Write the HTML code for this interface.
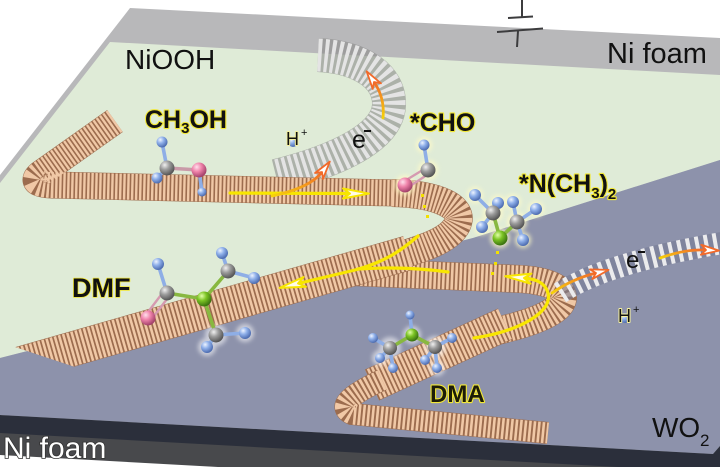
<!DOCTYPE html>
<html><head><meta charset="utf-8"><style>
html,body{margin:0;padding:0;background:#fff;}
svg{display:block;}
text{font-family:"Liberation Sans",Arial,sans-serif;}
</style></head><body>
<svg width="720" height="467" viewBox="0 0 720 467" xmlns="http://www.w3.org/2000/svg">
<defs>
 <radialGradient id="gC" cx="35%" cy="30%" r="70%"><stop offset="0" stop-color="#f0f0f0"/><stop offset=".45" stop-color="#9c9c9c"/><stop offset="1" stop-color="#555"/></radialGradient>
 <radialGradient id="gH" cx="35%" cy="30%" r="70%"><stop offset="0" stop-color="#eef4ff"/><stop offset=".45" stop-color="#8fb0ea"/><stop offset="1" stop-color="#4d6cb0"/></radialGradient>
 <radialGradient id="gO" cx="35%" cy="30%" r="70%"><stop offset="0" stop-color="#ffe0ec"/><stop offset=".45" stop-color="#f084ab"/><stop offset="1" stop-color="#a2416a"/></radialGradient>
 <radialGradient id="gN" cx="35%" cy="30%" r="70%"><stop offset="0" stop-color="#e2ffa8"/><stop offset=".45" stop-color="#7cc424"/><stop offset="1" stop-color="#3a7210"/></radialGradient>
 <linearGradient id="gOr" x1="0" y1="1" x2="1" y2="0"><stop offset="0" stop-color="#f6d20a"/><stop offset="1" stop-color="#f26a2a"/></linearGradient>
 <linearGradient id="gOrV" x1="0" y1="1" x2="0" y2="0"><stop offset="0" stop-color="#f6d20a"/><stop offset="1" stop-color="#f26a2a"/></linearGradient>
 <filter id="bl" x="-50%" y="-50%" width="200%" height="200%"><feGaussianBlur stdDeviation="2"/></filter>
 <marker id="hy" viewBox="0 0 28 14" refX="8" refY="7" markerWidth="28" markerHeight="14" orient="auto" markerUnits="userSpaceOnUse">
  <path d="M1,2 L27,7 L1,12 L8,7 Z" fill="#fffbe6" stroke="#f8e600" stroke-width="2" stroke-linejoin="round"/>
 </marker>
 <marker id="ho" viewBox="0 0 20 12" refX="6" refY="6" markerWidth="20" markerHeight="12" orient="auto" markerUnits="userSpaceOnUse">
  <path d="M1,1 L19,6 L1,11 L6,6 Z" fill="#fff" stroke="#f26a2a" stroke-width="1.8" stroke-linejoin="round"/>
 </marker>
 <clipPath id="dmfclip"><polygon points="-15,337 105,377 640,400 640,150 -15,150"/></clipPath>
</defs>

<!-- plates -->
<rect width="720" height="467" fill="#fff"/>
<polygon points="130,8 720,38 720,470 0,415 0,175" fill="#b8b8ba"/>
<polygon points="110,42 720,75 720,160 473,238 0,358 0,183" fill="#dfebd7"/>
<polygon points="0,358 473,238 720,160 720,446 713,454 0,415" fill="#8d92ab"/>
<polygon points="0,415 713,454 720,446 720,467 0,467" fill="#2b2f3b"/>
<polygon points="0,433 618,467 0,467" fill="#48494c"/>
<polygon points="0,455 218,467 0,467" fill="#fff"/>

<!-- battery symbol -->
<g stroke="#3c3c3e" stroke-width="2" fill="none">
 <line x1="522" y1="0" x2="522" y2="17"/>
 <line x1="508" y1="18" x2="533" y2="16.5"/>
 <line x1="497" y1="32" x2="543" y2="28.5"/>
 <line x1="518" y1="31" x2="517" y2="47"/>
</g>

<!-- gray electron band top -->
<path d="M318,55 C360,57 390,76 389,105 C388,136 340,160 276,176" fill="none" stroke="#8a8a8a" stroke-opacity=".6" stroke-width="34"/>
<path d="M318,55 C360,57 390,76 389,105 C388,136 340,160 276,176" fill="none" stroke="#e4e4e4" stroke-width="33" stroke-dasharray="3.6 3"/>

<!-- ribbon 2 (middle + DMA) -->
<g fill="none">
 <path d="M352,272 L520,279 C555,281 572,293 558,307 C546,318 520,326 492,332" stroke="#9c6c4e" stroke-width="28"/>
 <path d="M352,272 L520,279 C555,281 572,293 558,307 C546,318 520,326 492,332" stroke="#f0c8a6" stroke-width="27" stroke-dasharray="2.6 1.7"/>
 <path d="M505,324 L372,385" stroke="#9c6c4e" stroke-width="34"/>
 <path d="M505,324 L372,385" stroke="#f0c8a6" stroke-width="33" stroke-dasharray="2.6 1.7"/>
 <path d="M382,380 Q330,404 352,414 L548,433" stroke="#9c6c4e" stroke-width="22"/>
 <path d="M382,380 Q330,404 352,414 L548,433" stroke="#f0c8a6" stroke-width="21" stroke-dasharray="2.6 1.9"/>
</g>

<!-- ribbon 1 (top + U + DMF) -->
<g fill="none">
 <path d="M115,121 L40,174 Q28,184 52,185 L395,193" stroke="#9c6c4e" stroke-width="27"/>
 <path d="M115,121 L40,174 Q28,184 52,185 L395,193" stroke="#f0c8a6" stroke-width="26" stroke-dasharray="2.4 1.6"/>
 <path d="M392,193 C438,194 466,207 457,225 C449,240 425,248 395,257" stroke="#9c6c4e" stroke-width="28"/>
 <path d="M392,193 C438,194 466,207 457,225 C449,240 425,248 395,257" stroke="#f0c8a6" stroke-width="27" stroke-dasharray="2.4 1.6"/>
 <g clip-path="url(#dmfclip)">
  <path d="M408,253 L20,364" stroke="#9c6c4e" stroke-width="35"/>
  <path d="M408,253 L20,364" stroke="#f0c8a6" stroke-width="34" stroke-dasharray="2.6 1.7"/>
 </g>
</g>

<!-- gray electron band right -->
<path d="M560,293 Q605,263 722,243" fill="none" stroke="#767b94" stroke-opacity=".6" stroke-width="22"/>
<path d="M560,293 Q605,263 722,243" fill="none" stroke="#ebebed" stroke-width="22" stroke-dasharray="4 5"/>

<!-- yellow dots -->
<g fill="#f2e000">
 <rect x="421" y="194" width="3" height="3"/><rect x="423" y="205" width="3" height="3"/><rect x="426" y="215" width="3" height="3"/>
 <rect x="496" y="251" width="3" height="3"/><rect x="494" y="262" width="3" height="3"/><rect x="491" y="272" width="3" height="3"/>
</g>

<!-- arrows -->
<g fill="none" stroke-linecap="round">
 <path d="M230,193 L350,193.5" stroke="#f8e600" stroke-width="3.2" marker-end="url(#hy)"/>
 <path d="M448,272 Q405,266 358,269" stroke="#f8e600" stroke-width="3.2"/>
 <path d="M418,236 C402,250 385,262 355,270 L298,283.5" stroke="#f8e600" stroke-width="3.2" marker-end="url(#hy)"/>
 <path d="M474,338 C520,331 553,312 548,293 C545,282 535,279 524,278" stroke="#f8e600" stroke-width="3.2" marker-end="url(#hy)"/>
 <path d="M272,196 Q310,188 322,172" stroke="url(#gOr)" stroke-width="2.8" marker-end="url(#ho)"/>
 <path d="M383,118 Q385,98 374,82" stroke="url(#gOrV)" stroke-width="2.8" marker-end="url(#ho)"/>
 <path d="M552,293 Q572,279 596,273" stroke="url(#gOr)" stroke-width="2.8" marker-end="url(#ho)"/>
 <path d="M660,258 Q685,249 706,250" stroke="url(#gOr)" stroke-width="2.8" marker-end="url(#ho)"/>
</g>

<!-- molecule glows -->
<g fill="#fffbc8" opacity=".75" filter="url(#bl)">
 <circle cx="424" cy="145" r="8"/><circle cx="428" cy="170" r="10"/><circle cx="405" cy="185" r="10"/>
 <circle cx="475" cy="195" r="8"/><circle cx="498" cy="203" r="8"/><circle cx="513" cy="202" r="8"/><circle cx="536" cy="209" r="8"/>
 <circle cx="493" cy="213" r="10"/><circle cx="517" cy="222" r="10"/><circle cx="482" cy="227" r="8"/><circle cx="500" cy="238" r="10"/><circle cx="523" cy="240" r="8"/>
</g>
<g fill="#ffffff" opacity=".55" filter="url(#bl)">
 <circle cx="216" cy="335" r="11"/><circle cx="245" cy="333" r="9"/><circle cx="207" cy="347" r="9"/>
 <circle cx="412" cy="335" r="9"/><circle cx="390" cy="348" r="11"/><circle cx="435" cy="347" r="11"/><circle cx="380" cy="358" r="8"/><circle cx="437" cy="368" r="8"/>
</g>

<!-- bonds -->
<g stroke-width="3.6" stroke-linecap="round">
 <line x1="167" y1="168" x2="162" y2="142" stroke="#8eaee6"/>
 <line x1="167" y1="168" x2="157" y2="178" stroke="#8eaee6"/>
 <line x1="167" y1="168" x2="199" y2="170" stroke="#c99aa8"/>
 <line x1="199" y1="170" x2="202" y2="192" stroke="#8eaee6"/>
 <line x1="428" y1="170" x2="424" y2="145" stroke="#8eaee6"/>
 <line x1="426" y1="168" x2="403" y2="182" stroke="#d59ab0" stroke-width="2.4"/>
 <line x1="430" y1="173" x2="407" y2="188" stroke="#d59ab0" stroke-width="2.4"/>
 <line x1="500" y1="238" x2="493" y2="213" stroke="#88b840"/>
 <line x1="500" y1="238" x2="517" y2="222" stroke="#88b840"/>
 <line x1="493" y1="213" x2="475" y2="195" stroke="#8eaee6"/>
 <line x1="493" y1="213" x2="498" y2="203" stroke="#8eaee6"/>
 <line x1="493" y1="213" x2="482" y2="227" stroke="#8eaee6"/>
 <line x1="517" y1="222" x2="513" y2="202" stroke="#8eaee6"/>
 <line x1="517" y1="222" x2="536" y2="209" stroke="#8eaee6"/>
 <line x1="517" y1="222" x2="523" y2="240" stroke="#8eaee6"/>
 <line x1="167" y1="293" x2="158" y2="264" stroke="#8eaee6"/>
 <line x1="164" y1="291" x2="145" y2="316" stroke="#d59ab0" stroke-width="2.4"/>
 <line x1="170" y1="295" x2="151" y2="320" stroke="#d59ab0" stroke-width="2.4"/>
 <line x1="167" y1="293" x2="204" y2="299" stroke="#88b840"/>
 <line x1="204" y1="299" x2="228" y2="271" stroke="#88b840"/>
 <line x1="204" y1="299" x2="216" y2="335" stroke="#88b840"/>
 <line x1="228" y1="271" x2="222" y2="253" stroke="#8eaee6"/>
 <line x1="228" y1="271" x2="254" y2="278" stroke="#8eaee6"/>
 <line x1="216" y1="335" x2="245" y2="333" stroke="#8eaee6"/>
 <line x1="216" y1="335" x2="207" y2="347" stroke="#8eaee6"/>
 <line x1="412" y1="335" x2="410" y2="315" stroke="#8eaee6"/>
 <line x1="412" y1="335" x2="390" y2="348" stroke="#88b840"/>
 <line x1="412" y1="335" x2="435" y2="347" stroke="#88b840"/>
 <line x1="390" y1="348" x2="373" y2="338" stroke="#8eaee6"/>
 <line x1="390" y1="348" x2="380" y2="358" stroke="#8eaee6"/>
 <line x1="390" y1="348" x2="393" y2="368" stroke="#8eaee6"/>
 <line x1="435" y1="347" x2="452" y2="338" stroke="#8eaee6"/>
 <line x1="435" y1="347" x2="425" y2="360" stroke="#8eaee6"/>
 <line x1="435" y1="347" x2="437" y2="368" stroke="#8eaee6"/>
</g>

<!-- balls -->
<g>
 <circle cx="162" cy="142" r="5.5" fill="url(#gH)"/>
 <circle cx="167" cy="168" r="7.5" fill="url(#gC)"/>
 <circle cx="157" cy="178" r="5.5" fill="url(#gH)"/>
 <circle cx="199" cy="170" r="7.5" fill="url(#gO)"/>
 <circle cx="202" cy="192" r="4.5" fill="url(#gH)"/>
 <circle cx="424" cy="145" r="5.5" fill="url(#gH)"/>
 <circle cx="428" cy="170" r="7.5" fill="url(#gC)"/>
 <circle cx="405" cy="185" r="7.5" fill="url(#gO)"/>
 <circle cx="475" cy="195" r="6" fill="url(#gH)"/>
 <circle cx="498" cy="203" r="6" fill="url(#gH)"/>
 <circle cx="513" cy="202" r="6" fill="url(#gH)"/>
 <circle cx="536" cy="209" r="6" fill="url(#gH)"/>
 <circle cx="493" cy="213" r="7.5" fill="url(#gC)"/>
 <circle cx="517" cy="222" r="7.5" fill="url(#gC)"/>
 <circle cx="482" cy="227" r="6" fill="url(#gH)"/>
 <circle cx="500" cy="238" r="7.5" fill="url(#gN)"/>
 <circle cx="523" cy="240" r="6" fill="url(#gH)"/>
 <circle cx="158" cy="264" r="6" fill="url(#gH)"/>
 <circle cx="222" cy="253" r="6" fill="url(#gH)"/>
 <circle cx="228" cy="271" r="7.5" fill="url(#gC)"/>
 <circle cx="254" cy="278" r="6" fill="url(#gH)"/>
 <circle cx="167" cy="293" r="7.5" fill="url(#gC)"/>
 <circle cx="204" cy="299" r="7.5" fill="url(#gN)"/>
 <circle cx="148" cy="318" r="7.5" fill="url(#gO)"/>
 <circle cx="216" cy="335" r="7.5" fill="url(#gC)"/>
 <circle cx="245" cy="333" r="6" fill="url(#gH)"/>
 <circle cx="207" cy="347" r="6" fill="url(#gH)"/>
 <circle cx="410" cy="315" r="4.5" fill="url(#gH)"/>
 <circle cx="373" cy="338" r="5" fill="url(#gH)"/>
 <circle cx="452" cy="338" r="5" fill="url(#gH)"/>
 <circle cx="412" cy="335" r="6.5" fill="url(#gN)"/>
 <circle cx="390" cy="348" r="7" fill="url(#gC)"/>
 <circle cx="435" cy="347" r="7" fill="url(#gC)"/>
 <circle cx="380" cy="358" r="5" fill="url(#gH)"/>
 <circle cx="425" cy="360" r="5" fill="url(#gH)"/>
 <circle cx="393" cy="368" r="5" fill="url(#gH)"/>
 <circle cx="437" cy="368" r="5" fill="url(#gH)"/>
 <circle cx="293" cy="142" r="5" fill="url(#gH)"/>
 <circle cx="625" cy="318" r="5" fill="url(#gH)"/>
</g>

<!-- plain labels -->
<g fill="#111">
 <text x="125" y="69" font-size="28">NiOOH</text>
 <text x="607" y="63" font-size="29">Ni foam</text>
 <text x="652" y="437" font-size="28">WO</text>
 <text x="700" y="446" font-size="17">2</text>
</g>
<text x="3" y="458" font-size="30" fill="none" stroke="#333" stroke-width="1.6">Ni foam</text>
<text x="3" y="458" font-size="30" fill="#fff">Ni foam</text>

<!-- yellow-outlined labels: outline layer -->
<g fill="#f2e838" font-weight="bold" stroke="#f2e838" stroke-width="2.2" stroke-linejoin="round">
 <text x="145" y="128" font-size="25">CH<tspan font-size="15" dy="5">3</tspan><tspan dy="-5">OH</tspan></text>
 <text x="410" y="131" font-size="25">*CHO</text>
 <text x="519" y="192" font-size="25">*N(CH<tspan font-size="15" dy="6">3</tspan><tspan dy="-6">)</tspan><tspan font-size="15" dy="7">2</tspan></text>
 <text x="72" y="297" font-size="27" stroke-width="1.6">DMF</text>
 <text x="430" y="402" font-size="24">DMA</text>
</g>
<g fill="#111" font-weight="bold">
 <text x="145" y="128" font-size="25">CH<tspan font-size="15" dy="5">3</tspan><tspan dy="-5">OH</tspan></text>
 <text x="410" y="131" font-size="25">*CHO</text>
 <text x="519" y="192" font-size="25">*N(CH<tspan font-size="15" dy="6">3</tspan><tspan dy="-6">)</tspan><tspan font-size="15" dy="7">2</tspan></text>
 <text x="72" y="297" font-size="27">DMF</text>
 <text x="430" y="402" font-size="24" fill="#1c1c08">DMA</text>
</g>

<!-- protons / electrons -->
<g fill="#f4f0a0" stroke="#f4f0a0" stroke-width="2" stroke-linejoin="round">
 <text x="286" y="145" font-size="18">H</text>
 <text x="618" y="322" font-size="18">H</text>
</g>
<g fill="#111">
 <text x="286" y="145" font-size="18">H</text>
 <text x="301" y="136" font-size="11">+</text>
 <text x="618" y="322" font-size="18">H</text>
 <text x="633" y="313" font-size="11">+</text>
 <text x="352" y="148" font-size="25">e</text>
 <line x1="364" y1="131" x2="371" y2="131" stroke="#111" stroke-width="2"/>
 <text x="626" y="268" font-size="24">e</text>
 <line x1="638" y1="252" x2="645" y2="252" stroke="#111" stroke-width="2"/>
</g>
</svg>
</body></html>
